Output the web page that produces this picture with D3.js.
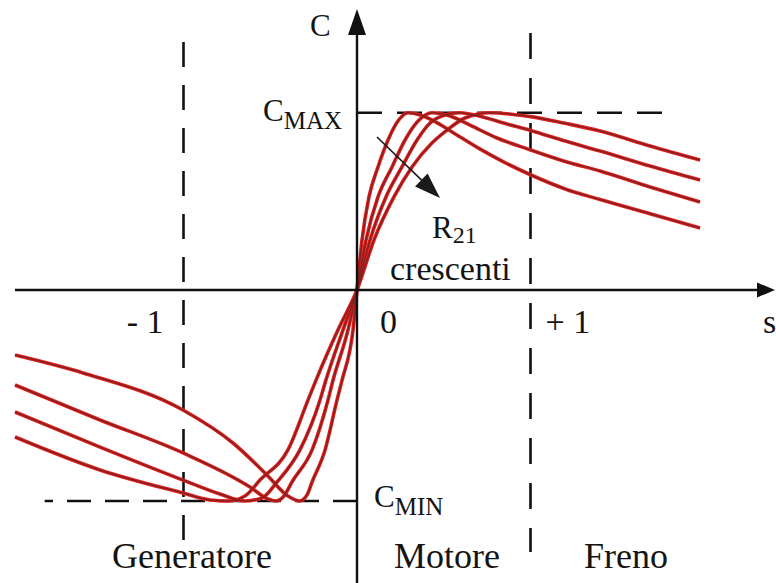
<!DOCTYPE html>
<html>
<head>
<meta charset="utf-8">
<script src="https://cdn.jsdelivr.net/npm/d3@7"></script>
<style>
  html, body { margin: 0; padding: 0; background: #fff; }
  svg { display: block; }
  text { font-family: "Liberation Serif", "DejaVu Serif", serif; fill: #141414; }
</style>
</head>
<body>
<svg id="chart" width="776" height="583"></svg>
<script>
// Torque–slip characteristics C(s) of an induction machine for four rotor resistances R21.
// Slip s on the horizontal axis, torque C on the vertical axis (C = 1 at C_MAX).
const C_MAX = 1.0;
const C_MIN = -1.19;
const slipTicks = [-1, 0, 1];
const slipTickLabels = ["- 1", "0", "+ 1"];
const regionLabels = ["Generatore", "Motore", "Freno"];

// [s, C] samples, smallest R21 first
const curveR1 = [[-1.971,-0.367],[-1.579,-0.468],[-1.003,-0.677],[-0.715,-0.863],[-0.519,-1.043],[-0.398,-1.162],[-0.329,-1.19],[-0.288,-1.156],[-0.259,-1.083],[-0.184,-0.902],[-0.115,-0.62],[-0.086,-0.508],[-0.023,-0.226],[0,0],[0.029,0.282],[0.069,0.525],[0.121,0.694],[0.179,0.846],[0.236,0.953],[0.294,1.0],[0.363,0.987],[0.45,0.95],[0.55,0.89],[0.7,0.80],[0.85,0.72],[1.0,0.65],[1.2,0.57],[1.401,0.51],[1.689,0.43],[1.977,0.35]];
const curveR2 = [[-1.971,-0.536],[-1.481,-0.733],[-1.003,-0.919],[-0.617,-1.111],[-0.513,-1.179],[-0.467,-1.19],[-0.421,-1.162],[-0.375,-1.083],[-0.259,-0.902],[-0.167,-0.62],[-0.138,-0.508],[-0.052,-0.226],[0,0],[0.052,0.282],[0.121,0.525],[0.202,0.694],[0.277,0.846],[0.352,0.953],[0.432,1.0],[0.536,0.981],[0.651,0.93],[0.8,0.86],[1.0,0.79],[1.2,0.725],[1.401,0.671],[1.689,0.581],[1.977,0.496]];
const curveR3 = [[-1.971,-0.688],[-1.481,-0.886],[-1.003,-1.072],[-0.79,-1.151],[-0.646,-1.19],[-0.548,-1.173],[-0.461,-1.083],[-0.329,-0.902],[-0.213,-0.62],[-0.179,-0.508],[-0.081,-0.226],[0,0],[0.075,0.282],[0.167,0.525],[0.259,0.694],[0.346,0.846],[0.421,0.942],[0.507,0.987],[0.594,1.0],[0.709,0.98],[0.85,0.94],[1.0,0.9],[1.2,0.84],[1.401,0.784],[1.689,0.699],[1.977,0.62]];
const curveR4 = [[-1.971,-0.829],[-1.481,-1.015],[-1.003,-1.145],[-0.847,-1.184],[-0.744,-1.19],[-0.646,-1.162],[-0.559,-1.072],[-0.398,-0.902],[-0.282,-0.62],[-0.236,-0.508],[-0.11,-0.226],[0,0],[0.098,0.282],[0.213,0.525],[0.317,0.694],[0.432,0.829],[0.519,0.902],[0.622,0.97],[0.767,1.0],[0.9,0.99],[1.0,0.978],[1.2,0.94],[1.401,0.897],[1.689,0.812],[1.977,0.733]];
const curves = [curveR1, curveR2, curveR3, curveR4];

const svg = d3.select("#chart");
const x = d3.scaleLinear().domain([-1, 1]).range([183.5, 530.5]);
const y = d3.scaleLinear().domain([0, 1]).range([290, 112.7]);

const ink = "#111";

// dashed reference lines: C_MAX, C_MIN, s = -1, s = +1
const dashed = svg.append("g")
  .attr("stroke", ink).attr("stroke-width", 2.6).attr("fill", "none");
dashed.append("line")
  .attr("x1", x(0)).attr("x2", x(1.80)).attr("y1", y(C_MAX)).attr("y2", y(C_MAX))
  .attr("stroke-dasharray", "25,15");
dashed.append("line")
  .attr("x1", x(0)).attr("x2", x(-1.80)).attr("y1", y(C_MIN)).attr("y2", y(C_MIN))
  .attr("stroke-dasharray", "24,14");
dashed.append("line")
  .attr("x1", x(-1)).attr("x2", x(-1)).attr("y1", 42).attr("y2", 552)
  .attr("stroke-dasharray", "25,18");
dashed.append("line")
  .attr("x1", x(1)).attr("x2", x(1)).attr("y1", 33).attr("y2", 552)
  .attr("stroke-dasharray", "26,19");

// characteristic curves
const line = d3.line()
  .x(d => x(d[0]))
  .y(d => y(d[1]))
  .curve(d3.curveMonotoneX);

const curveGroup = svg.append("g").attr("fill", "none")
  .attr("stroke-linejoin", "round").attr("stroke-linecap", "butt");
curveGroup.selectAll("path.halo").data(curves).join("path")
  .attr("class", "halo")
  .attr("d", line)
  .attr("stroke", "#e3211f")
  .attr("stroke-width", 3.6);
curveGroup.selectAll("path.core").data(curves).join("path")
  .attr("class", "core")
  .attr("d", line)
  .attr("stroke", "#862020")
  .attr("stroke-width", 1.5);

// axes with arrowheads
const axes = svg.append("g");
axes.append("line")
  .attr("x1", 15).attr("x2", 760).attr("y1", y(0)).attr("y2", y(0))
  .attr("stroke", ink).attr("stroke-width", 2.4);
axes.append("path")
  .attr("d", `M775,${y(0)} L757,${y(0) - 7.5} L757,${y(0) + 7.5} Z`)
  .attr("fill", ink);
axes.append("line")
  .attr("x1", x(0)).attr("x2", x(0)).attr("y1", 30).attr("y2", 583)
  .attr("stroke", ink).attr("stroke-width", 2.4);
axes.append("path")
  .attr("d", `M${x(0)},9 L${x(0) - 9},35 L${x(0) + 9},35 Z`)
  .attr("fill", ink);

// arrow showing the direction of increasing R21
const a0 = [377, 137], a1 = [440, 198];
const ang = Math.atan2(a1[1] - a0[1], a1[0] - a0[0]);
const headLen = 26, headHalf = 9;
const bx = a1[0] - headLen * Math.cos(ang), by = a1[1] - headLen * Math.sin(ang);
svg.append("line")
  .attr("x1", a0[0]).attr("y1", a0[1]).attr("x2", bx + 4 * Math.cos(ang)).attr("y2", by + 4 * Math.sin(ang))
  .attr("stroke", "#1a1a1a").attr("stroke-width", 1.6);
svg.append("path")
  .attr("d", `M${a1[0]},${a1[1]} L${bx - headHalf * Math.sin(ang)},${by + headHalf * Math.cos(ang)} L${bx + headHalf * Math.sin(ang)},${by - headHalf * Math.cos(ang)} Z`)
  .attr("fill", "#1a1a1a");

// labels
const labels = svg.append("g");

labels.append("text").attr("x", x(0) - 47).attr("y", 36)
  .attr("font-size", 31).text("C");
labels.append("text").attr("x", 763).attr("y", 333)
  .attr("font-size", 34).text("s");

// slip tick labels
const tickOffsets = [{dx: -20, anchor: "end"}, {dx: 23, anchor: "start"}, {dx: 15, anchor: "start"}];
labels.selectAll("text.tick").data(slipTicks).join("text")
  .attr("class", "tick")
  .attr("x", (d, i) => x(d) + tickOffsets[i].dx)
  .attr("y", y(0) + 43)
  .attr("text-anchor", (d, i) => tickOffsets[i].anchor)
  .attr("font-size", 34)
  .text((d, i) => slipTickLabels[i]);

// C_MAX / C_MIN
const cmax = labels.append("text").attr("x", x(0) - 15).attr("y", y(C_MAX) + 8)
  .attr("text-anchor", "end").attr("font-size", 31);
cmax.append("tspan").text("C");
cmax.append("tspan").attr("font-size", 25).attr("dy", 8).text("MAX");

const cmin = labels.append("text").attr("x", x(0) + 17).attr("y", y(C_MIN) + 6)
  .attr("font-size", 31);
cmin.append("tspan").text("C");
cmin.append("tspan").attr("font-size", 25).attr("dy", 8).text("MIN");

const r21 = labels.append("text").attr("x", 432).attr("y", 238).attr("font-size", 31);
r21.append("tspan").text("R");
r21.append("tspan").attr("font-size", 24).attr("dy", 5).text("21");
labels.append("text").attr("x", 390).attr("y", 280).attr("font-size", 34).text("crescenti");

// operating regions along the slip axis
const regionX = [112, 394, 584];
labels.selectAll("text.region").data(regionLabels).join("text")
  .attr("class", "region")
  .attr("x", (d, i) => regionX[i])
  .attr("y", 568)
  .attr("font-size", 36)
  .text(d => d);
</script>
</body>
</html>
